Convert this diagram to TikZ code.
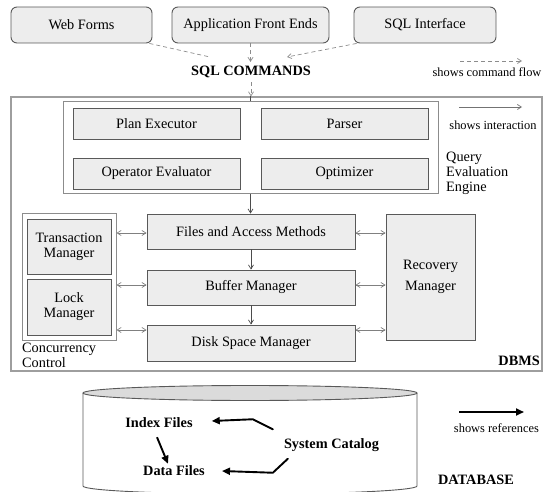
\documentclass[tikz,border=0pt]{standalone}
\usepackage{fontspec}
\setmainfont{Liberation Serif}
\usetikzlibrary{arrows.meta,calc}
\begin{document}
\begin{tikzpicture}[x=1pt,y=-1pt,
  every node/.style={font=\fontsize{14.3}{15}\selectfont, inner sep=0pt},
  topbox/.style={draw=black!65, fill=black!7, line width=0.9pt, rounded corners=6pt},
  modbox/.style={draw=black!65, fill=black!7, line width=0.9pt},
  frame/.style={draw=black!38, line width=1.2pt},
  cmdflow/.style={draw=black!45, line width=0.7pt, dash pattern=on 4pt off 3pt},
  cmdtip/.style={-{Straight Barb[length=4pt,width=5pt]}},
  inter/.style={draw=black!70, line width=0.7pt, -{Straight Barb[length=4pt,width=5pt]}},
  binter/.style={draw=black!50, line width=0.7pt, {Straight Barb[length=4pt,width=5pt]}-{Straight Barb[length=4pt,width=5pt]}},
  refarrow/.style={draw=black, line width=1.9pt, -{Triangle[length=8pt,width=7pt]}},
  legend/.style={font=\fontsize{12.4}{14}\selectfont},
  boldlbl/.style={font=\fontsize{14.3}{15}\selectfont\bfseries},
  cyl/.style={draw=black!65, line width=0.9pt},
]
\path[use as bounding box] (0,0) rectangle (544,492);

% top sources
\node[topbox, minimum width=141pt, minimum height=36pt] (wf) at (81.5,25) {Web Forms};
\node[topbox, minimum width=157pt, minimum height=36pt] (afe) at (250.5,25) {Application Front Ends};
\node[topbox, minimum width=142pt, minimum height=36pt] (sqli) at (425,25) {SQL Interface};
\node[boldlbl, inner sep=4pt] (sqlc) at (251,72) {SQL COMMANDS};

\coordinate (wfend) at (210,57);
\coordinate (sqliend) at (287,57);
\draw[cmdflow] ([xshift=-3pt]wf.south east) -- (wfend);
\draw[cmdflow, cmdtip] ([xshift=3pt]sqli.south west) -- (sqliend);
\draw[cmdflow, cmdtip] (afe.south) -- (afe.south |- sqlc.north);

% legend: command flow
\coordinate (lc1) at (460,61);
\coordinate (lc2) at (522,61);
\draw[cmdflow, cmdtip] (lc1) -- (lc2);
\node[legend] (lct) at (487,72) {shows command flow};

% DBMS frame
\node[frame, minimum width=531pt, minimum height=274pt] (dbms) at (276.5,234) {};
\draw[cmdflow, cmdtip] (sqlc.south) -- (sqlc.south |- dbms.north);

% Query evaluation engine
\node[frame, draw=black!45, line width=1pt, minimum width=375pt, minimum height=92pt] (qee) at (250.5,148) {};
\node[modbox, minimum width=167pt, minimum height=31pt] (pe) at (156.5,123.5) {Plan Executor};
\node[modbox, minimum width=167pt, minimum height=31pt] (parser) at (344.5,123.5) {Parser};
\node[modbox, minimum width=167pt, minimum height=31pt] (oe) at (156.5,173.5) {Operator Evaluator};
\node[modbox, minimum width=167pt, minimum height=31pt] (opt) at (344.5,173.5) {Optimizer};
\node[anchor=west, align=left] (qeel) at (446,173) {Query\\Evaluation\\Engine};
\draw[draw=black!70, line width=0.7pt] (dbms.north -| qee.north) -- (qee.north);

% legend: interaction
\coordinate (li1) at (459,107);
\coordinate (li2) at (522,107);
\draw[inter, draw=black!55] (li1) -- (li2);
\node[legend] (lit) at (493,125) {shows interaction};

% storage layers
\node[modbox, minimum width=208pt, minimum height=35pt] (fam) at (251,231.5) {Files and Access Methods};
\node[modbox, minimum width=208pt, minimum height=35pt] (bm) at (251,287.5) {Buffer Manager};
\node[modbox, minimum width=208pt, minimum height=36pt] (dsm) at (251,343) {Disk Space Manager};
\draw[inter] (qee.south) -- (qee.south |- fam.north);
\draw[inter] (fam.south) -- (bm.north);
\draw[inter] (bm.south) -- (dsm.north);

% concurrency control
\node[frame, draw=black!45, line width=1pt, minimum width=94pt, minimum height=126pt] (cc) at (69,277) {};
\node[modbox, minimum width=84pt, minimum height=55pt, align=center] (tm) at (69,246.5) {Transaction\\Manager};
\node[modbox, minimum width=84pt, minimum height=56pt, align=center] (lm) at (69,307) {Lock\\Manager};
\node[anchor=north west, align=left] (ccl) at (22,343) {Concurrency\\Control};

% recovery
\node[modbox, minimum width=89pt, minimum height=126pt, align=center, font=\fontsize{14.3}{21}\selectfont] (rm) at (430.5,277) {Recovery\\Manager};

\coordinate (y1) at ([yshift=-1.5pt]fam.west);
\coordinate (y2) at ([yshift=2.5pt]bm.west);
\coordinate (y3) at ([yshift=13pt]dsm.west);
\coordinate (z1) at ([yshift=-1.5pt]fam.east);
\coordinate (z2) at ([yshift=2.5pt]bm.east);
\coordinate (z3) at ([yshift=13pt]dsm.east);
\draw[binter] (y1 -| cc.east) -- (y1);
\draw[binter] (y2 -| cc.east) -- (y2);
\draw[binter] (y3 -| cc.east) -- (y3);
\draw[binter] (z1) -- (z1 -| rm.west);
\draw[binter] (z2) -- (z2 -| rm.west);
\draw[binter] (z3) -- (z3 -| rm.west);

\node[boldlbl, anchor=east] (dbmsl) at (540,361) {DBMS};

% database cylinder
\draw[cyl] (83,393) -- (83,486) arc[start angle=180, end angle=360, x radius=167pt, y radius=8pt] -- (417,393);
\draw[cyl, fill=black!14] (250,393) ellipse[x radius=167pt, y radius=7.5pt];

\node[boldlbl] (ixf) at (159,423) {Index Files};
\node[boldlbl] (daf) at (174,471) {Data Files};
\node[boldlbl] (sysc) at (331.5,445) {System Catalog};

\draw[refarrow] ([xshift=-2pt,yshift=-9pt]ixf.south) -- ([xshift=-6pt,yshift=2pt]daf.north);
\coordinate (s1) at ([xshift=-11pt,yshift=9pt]sysc.north west);
\coordinate (s2) at ([xshift=4pt,yshift=-7pt]sysc.south west);
\draw[refarrow, line cap=round] (s1) -- ++(-20,-10) -- ([xshift=19pt,yshift=2pt]ixf.east);
\draw[refarrow, line cap=round] (s2) -- ++(-15,14) -- ([xshift=17pt]daf.east);

% legend: references
\coordinate (lr1) at (459,412);
\coordinate (lr2) at (524,412);
\draw[refarrow] (lr1) -- (lr2);
\node[legend] (lrt) at (496.5,428) {shows references};

\node[boldlbl] (dbl) at (476,480) {DATABASE};
\end{tikzpicture}
\end{document}
